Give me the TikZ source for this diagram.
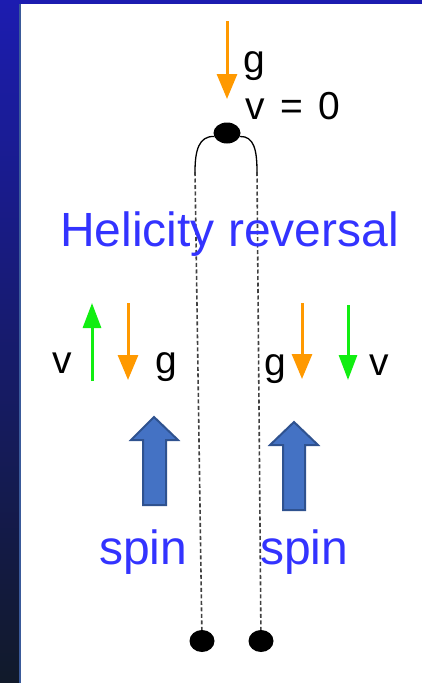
\documentclass[tikz,border=0pt]{standalone}
\usepackage{fontspec}
\setmainfont{Liberation Sans}
\usetikzlibrary{arrows.meta, shapes.geometric}
\definecolor{helblue}{HTML}{3333FF}
\definecolor{gorange}{HTML}{FF9900}
\definecolor{vgreen}{HTML}{11EE11}
\definecolor{spinfill}{HTML}{4472C4}
\definecolor{spinedge}{HTML}{2F528F}
\definecolor{slidetop}{HTML}{1C1CB0}
\definecolor{slidebot}{HTML}{111A2A}
\definecolor{slideline}{HTML}{3A5A9A}

\begin{document}
\begin{tikzpicture}[x=1pt, y=-1pt,
    label/.style={anchor=base west, inner sep=0pt, font=\fontsize{39}{41}\selectfont},
    bluetext/.style={anchor=base west, inner sep=0pt, text=helblue, font=\fontsize{48}{50}\selectfont},
    ball/.style={ellipse, fill=black, inner sep=0pt},
    gravity/.style={gorange, line width=3pt, -{Triangle[width=20pt, length=25pt]}},
    velocity/.style={vgreen, line width=3pt, -{Triangle[width=18pt, length=25pt]}},
    hairpin/.style={black, line width=1.3pt},
    track/.style={black!75, line width=1.6pt, dash pattern=on 4pt off 2.5pt},
    spinblock/.style={fill=spinfill, draw=spinedge, line width=2pt, line join=miter},
]
\useasboundingbox (0,0) rectangle (422,683);

% slide frame
\shade[top color=slidetop, bottom color=slidebot] (0,0) rectangle (20,683);
\fill[slidetop] (0,0) rectangle (422,4);
\fill[slideline] (19,4) rectangle (21,683);

% balls and tracks
\node[ball, minimum width=27pt, minimum height=21pt] (top) at (227,133) {};
\node[ball, minimum width=25pt, minimum height=22pt] (lball) at (202,641) {};
\node[ball, minimum width=25pt, minimum height=22pt] (rball) at (261,641) {};
\coordinate (lbend) at (195,172);
\coordinate (rbend) at (257,172);

\draw[hairpin] (top.195) .. controls (199,136) and (195,150) .. (lbend);
\draw[hairpin] (top.-15) .. controls (254,136) and (257,150) .. (rbend);
\draw[track] (lbend) -- (lball);
\draw[track] (rbend) -- (rball);

% top: g and v = 0
\coordinate (gtop0) at (227,21);
\coordinate (gtop1) at (227,99);
\draw[gravity] (gtop0) -- (gtop1);
\node[label] (gtop) at (243,72) {g};
\node[label] (vzero) at (245,119) {v\hspace{0.4em}=\hspace{0.4em}0};

\node[bluetext] (helicity) at (60,246) {Helicity reversal};

% left side
\coordinate (lv0) at (92,381);
\coordinate (lv1) at (92,303);
\coordinate (lg0) at (128,303);
\coordinate (lg1) at (128,380);
\draw[velocity] (lv0) -- (lv1);
\draw[gravity] (lg0) -- (lg1);
\node[label] (lvlab) at (52,373) {v};
\node[label] (lglab) at (155,373) {g};

% right side
\coordinate (rg0) at (302,303);
\coordinate (rg1) at (302,379);
\coordinate (rv0) at (348,305);
\coordinate (rv1) at (348,380);
\draw[gravity] (rg0) -- (rg1);
\draw[velocity] (rv0) -- (rv1);
\node[label] (rglab) at (264,375) {g};
\node[label] (rvlab) at (369,375) {v};

% spin arrows
\draw[spinblock] (143,505) -- (143,440) -- (131,440) -- (154,417) -- (178,440) -- (166,440) -- (166,505) -- cycle;
\draw[spinblock] (283,510) -- (283,445) -- (270,445) -- (294,422) -- (318,445) -- (305,445) -- (305,510) -- cycle;
\node[bluetext] (lspin) at (99,564) {spin};
\node[bluetext] (rspin) at (260,564) {spin};

\end{tikzpicture}
\end{document}
